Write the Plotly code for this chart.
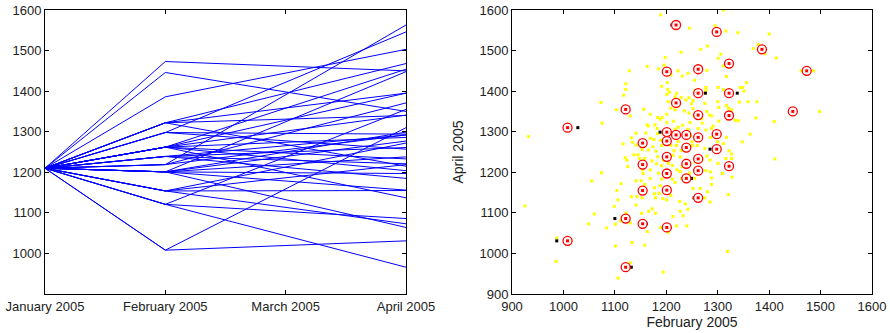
import plotly.graph_objects as go

# ---- data ----
months = ["January 2005", "February 2005", "March 2005", "April 2005"]
jan_value = 1210
# (February 2005, April 2005) pairs for the 40 plotted paths
feb_values = [1219, 1298, 1386, 1322, 1201, 1262, 1473, 1262, 1322, 1219,
              1121, 1446, 1262, 1322, 1008, 1201, 1219, 1239, 1298, 1262,
              1154, 1201, 1239, 1298, 1201, 1262, 1154, 1239, 1322, 1201,
              1262, 1239, 1154, 1201, 1262, 1121, 1154, 1201, 1008, 1121]
apr_values = [1563, 1546, 1503, 1468, 1448, 1454, 1450, 1395, 1395, 1371,
              1355, 1350, 1341, 1340, 1310, 1299, 1292, 1292, 1294, 1286,
              1272, 1277, 1261, 1257, 1238, 1233, 1219, 1221, 1215, 1197,
              1204, 1185, 1155, 1156, 1137, 1086, 1073, 1064, 1031, 966]
# black reference points
black_feb = [1211, 1300, 1386, 1315, 1199, 1265, 1473, 1276, 1338, 1219,
             1121, 1446, 1265, 1324, 1028, 1188, 1219, 1239, 1298, 1260,
             1154, 1201, 1239, 1285, 1199, 1262, 1154, 1239, 1319, 1201,
             1262, 1249, 1154, 1202, 1254, 1100, 1161, 1207, 987, 1132]
black_apr = apr_values
# yellow cloud (February, April)
cloud_feb = [1189, 1311, 1295, 1245, 1316, 1339, 1400, 1229, 1267, 1280, 1306, 1379, 1369, 1392, 1414, 1198,
             1163, 1128, 1185, 1196, 1223, 1231, 1255, 1242, 1279, 1301, 1311, 1321, 1462, 1486, 1317, 1209,
             1191, 1202, 1203, 1256, 1277, 1277, 1301, 1311, 1348, 1351, 1201, 1206, 1220, 1229, 1244, 1252,
             1121, 1117, 1121, 1073, 1103, 1130, 1156, 1169, 1192, 1188, 1201, 1209, 1217, 1223, 1235, 1249,
             1252, 1244, 1254, 1275, 1279, 1284, 1288, 1300, 1302, 1317, 1321, 1327, 1334, 1340, 1342, 1359,
             1376, 1374, 1410, 1498, 1344, 1356, 1075, 932, 925, 986, 987, 1015, 1055, 1074, 1049, 1084,
             1060, 1099, 1104, 1106, 1112, 1120, 1123, 1125, 1116, 1134, 1137, 1145, 1153, 1158, 1154, 1155,
             1151, 1153, 1132, 1114, 1130, 1148, 1163, 1158, 1133, 1111, 1101, 1101, 1106, 1130, 1194, 1160,
             1165, 1178, 1182, 1169, 1176, 1183, 1189, 1191, 1174, 1165, 1180, 1183, 1172, 1169, 1181, 1185,
             1191, 1194, 1204, 1213, 1212, 1215, 1209, 1220, 1223, 1229, 1227, 1221, 1227, 1230, 1231, 1217,
             1206, 1212, 1191, 1188, 1177, 1179, 1186, 1204, 1209, 1226, 1201, 1193, 1173, 1179, 1166, 1189,
             1198, 1204, 1213, 1220, 1240, 1227, 1242, 1252, 1266, 1275, 1285, 1280, 1288, 1288, 1286, 1277,
             1245, 1255, 1245, 1256, 1269, 1279, 1285, 1275, 1260, 1250, 1250, 1247, 1242, 1246, 1232, 1223,
             1217, 1209, 1214, 1201, 1262, 1270, 1277, 1288, 1291, 1286, 1300, 1317, 1311, 1322, 1327, 1316,
             1327, 1309, 1328, 1301, 1321, 1319, 1348, 1363, 1411, 1269, 1302, 1238, 1217, 1204, 1163, 1183,
             1141, 1132, 1141, 1148, 1141, 1169, 1177, 1158, 1143, 1152, 1141, 1122, 1233, 1237, 1261]
cloud_apr = [1588, 1600, 1561, 1555, 1548, 1544, 1541, 1496, 1503, 1511, 1491, 1515, 1505, 1492, 1482, 1483,
             1461, 1450, 1455, 1464, 1450, 1437, 1427, 1444, 1451, 1481, 1462, 1460, 1450, 1450, 1436, 1440,
             1412, 1421, 1404, 1402, 1409, 1402, 1409, 1404, 1409, 1400, 1392, 1397, 1394, 1384, 1384, 1377,
             1418, 1390, 1404, 1372, 1354, 1339, 1355, 1343, 1335, 1331, 1343, 1358, 1354, 1363, 1351, 1369,
             1357, 1346, 1339, 1370, 1350, 1341, 1339, 1374, 1360, 1365, 1358, 1354, 1328, 1327, 1373, 1374,
             1374, 1334, 1325, 1350, 1409, 1421, 1321, 1288, 1117, 980, 1038, 1032, 1179, 1199, 1073, 1063,
             1097, 1116, 1155, 1132, 1172, 1236, 1230, 1214, 1270, 1274, 1243, 1243, 1256, 1234, 1206, 1197,
             1179, 1137, 1140, 1090, 1075, 1075, 1054, 1020, 1027, 1080, 1072, 1018, 939, 977, 954, 1297,
             1314, 1317, 1308, 1284, 1281, 1295, 1279, 1266, 1263, 1255, 1252, 1238, 1228, 1206, 1221, 1198,
             1216, 1230, 1222, 1242, 1217, 1253, 1266, 1266, 1276, 1254, 1238, 1206, 1202, 1185, 1214, 1175,
             1190, 1183, 1183, 1167, 1147, 1137, 1148, 1164, 1143, 1128, 1132, 1135, 1110, 1099, 1104, 1064,
             1063, 1052, 1091, 1068, 1068, 1104, 1109, 1160, 1160, 1137, 1127, 1152, 1170, 1186, 1201, 1204,
             1198, 1185, 1218, 1226, 1230, 1240, 1230, 1259, 1266, 1266, 1275, 1290, 1306, 1323, 1316, 1311,
             1306, 1296, 1326, 1323, 1308, 1321, 1304, 1308, 1314, 1286, 1275, 1286, 1271, 1253, 1245, 1234,
             1234, 1197, 1188, 1222, 1145, 1005, 1275, 1294, 1233, 1332, 1326, 1378, 1386, 1374, 1317, 1335,
             1296, 1285, 1267, 1234, 1179, 1185, 1162, 1170, 1140, 1099, 1119, 1099, 1093, 1122, 1138]

month_pos = [0, 1, 3]  # January, February, April positions on the month axis

fig = go.Figure()

# left panel: one path per pair
for f, a in zip(feb_values, apr_values):
    fig.add_trace(go.Scatter(
        x=month_pos, y=[jan_value, f, a], mode="lines",
        line=dict(color="rgb(0,0,255)", width=1),
        xaxis="x", yaxis="y", showlegend=False, hoverinfo="skip"))

# right panel
fig.add_trace(go.Scatter(
    x=cloud_feb, y=cloud_apr, mode="markers",
    marker=dict(color="rgb(255,255,0)", size=3, symbol="square", line=dict(width=0)),
    xaxis="x2", yaxis="y2", showlegend=False))
fig.add_trace(go.Scatter(
    x=black_feb, y=black_apr, mode="markers",
    marker=dict(color="black", size=3, symbol="square", line=dict(width=0)),
    xaxis="x2", yaxis="y2", showlegend=False))
fig.add_trace(go.Scatter(
    x=feb_values, y=apr_values, mode="markers",
    marker=dict(color="rgba(255,255,255,1)", size=9, symbol="circle",
                line=dict(color="red", width=1.3)),
    xaxis="x2", yaxis="y2", showlegend=False))
fig.add_trace(go.Scatter(
    x=feb_values, y=apr_values, mode="markers",
    marker=dict(color="red", size=3, symbol="square", line=dict(width=0)),
    xaxis="x2", yaxis="y2", showlegend=False))

axis_common = dict(showline=True, linecolor="black", linewidth=1, mirror="ticks",
                   ticks="inside", ticklen=4, tickcolor="black", showgrid=False,
                   zeroline=False, automargin=False, ticklabeloverflow="allow",
                   tickfont=dict(family="Liberation Sans, Arial", size=13, color="#222"))

W, H = 890, 333
fig.update_layout(
    width=W, height=H,
    margin=dict(l=0, r=0, t=0, b=0),
    paper_bgcolor="white", plot_bgcolor="white",
    font=dict(family="Liberation Sans, Arial", size=13, color="#222"),
    xaxis=dict(domain=[45/W, 406/W], range=[0, 3], tickvals=[0, 1, 2, 3],
               ticktext=months, anchor="y", **axis_common),
    yaxis=dict(domain=[1-294/H, 1-10/H], range=[900, 1600],
               tickvals=[1000, 1100, 1200, 1300, 1400, 1500, 1600], anchor="x", **axis_common),
    xaxis2=dict(domain=[512/W, 872/W], range=[900, 1600], dtick=100, anchor="y2",
                title=dict(text="February 2005", standoff=2, font=dict(size=14)), **axis_common),
    yaxis2=dict(domain=[1-294/H, 1-10/H], range=[900, 1600], dtick=100, anchor="x2",
                title=dict(text="April 2005", standoff=12, font=dict(size=14)), **axis_common),
)

fig.write_html("out.html", config={"displayModeBar": False},
               post_script="document.body.style.margin='0';")
